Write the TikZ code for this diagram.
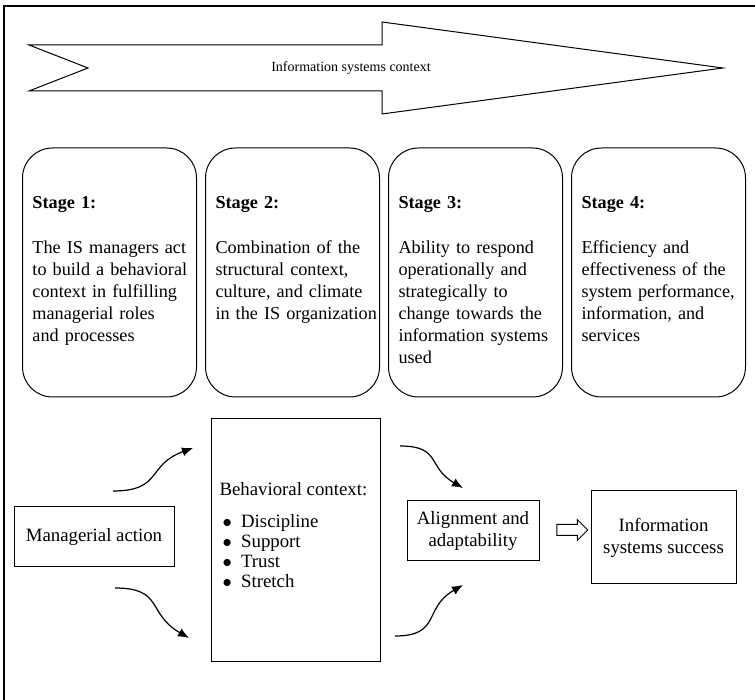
\documentclass[tikz,border=0pt]{standalone}
\usepackage{fontspec}
\setmainfont{Liberation Serif}
\usetikzlibrary{shapes.arrows,arrows.meta}

\tikzset{
  stagebox/.style={draw, rounded corners=15pt, minimum width=87pt, minimum height=124.5pt},
  stagetext/.style={anchor=north west, inner sep=0pt, text width=84pt, align=left, font=\fontsize{9.1}{11}\selectfont},
  plainbox/.style={draw, inner sep=0pt, align=center},
  curvearrow/.style={-{Latex[length=5.5pt,width=4.5pt]}, line width=0.6pt}
}

\begin{document}
\begin{tikzpicture}[x=0.5pt, y=0.5pt, font=\fontsize{9.4}{11}\selectfont, line width=0.5pt]
        \useasboundingbox (0,0) rectangle (755,700);
        \draw[line width=0.7pt] (4,0) -- (4,694) -- (755,694);

        % context arrow
        \draw (29,655) -- (88,632) -- (29,609) -- (382,609) -- (382,586) -- (723,632)
              -- (382,678) -- (382,655) -- cycle;
        \node[inner sep=0pt, font=\fontsize{7}{8}\selectfont] (ctx) at (351,632) {Information systems context};

        % stages
        \foreach \i/\cx/\body in {
            1/109.5/{The IS managers act\\to build a behavioral\\context in fulfilling\\managerial roles\\and processes},
            2/292.5/{Combination of the\\structural context,\\culture, and climate\\in the IS organization},
            3/475.5/{Ability to respond\\operationally and\\strategically to\\change towards the\\information systems\\used},
            4/658.5/{Efficiency and\\effectiveness of the\\system performance,\\information, and\\services}} {
            \node[stagebox] (s\i) at (\cx,427.5) {};
            \node[stagetext] (t\i) at ([xshift=5pt,yshift=-24pt]s\i.north west) {\textbf{Stage \i:}\\[11.5pt]\body};
        }

        \node[plainbox, minimum width=80pt, minimum height=30pt] (mgr) at (94,163) {Managerial action};
        \node[draw, minimum width=84.5pt, minimum height=121.5pt] (beh) at (295.5,159.5) {};
        \node[anchor=west, inner sep=0pt] (behhead) at (219,211) {Behavioral context:};
        \foreach \w [count=\k] in {Discipline,Support,Trust,Stretch}
            \node[anchor=base west, inner sep=0pt] (b\k) at (222,192-20*\k) {$\bullet$\enspace\w};
        \node[plainbox, minimum width=66pt, minimum height=30pt] (al) at (473,169) {Alignment and\\adaptability};
        \node[plainbox, minimum width=72.5pt, minimum height=46.5pt] (iss) at (663.5,162.5) {Information\\systems success};
        \node[draw, single arrow, minimum height=15.5pt, minimum width=10pt, inner sep=2.5pt,
              single arrow head extend=2.5pt] (imp) at (569.5,170) {};

        \coordinate (a1) at (113,209);
        \coordinate (a1e) at (193,252);
        \coordinate (a2) at (115,112);
        \coordinate (a2e) at (189,62);
        \coordinate (a3) at (400,254);
        \coordinate (a3e) at (463,212);
        \coordinate (a4) at (395,64);
        \coordinate (a4e) at (463,115);

        \draw[curvearrow] (a1) to[out=0, in=200, looseness=1.4] (a1e);
        \draw[curvearrow] (a2) to[out=0, in=150, looseness=1.4] (a2e);
        \draw[curvearrow] (a3) to[out=0, in=150, looseness=1.4] (a3e);
        \draw[curvearrow] (a4) to[out=0, in=210, looseness=1.4] (a4e);
    \end{tikzpicture}
\end{document}
